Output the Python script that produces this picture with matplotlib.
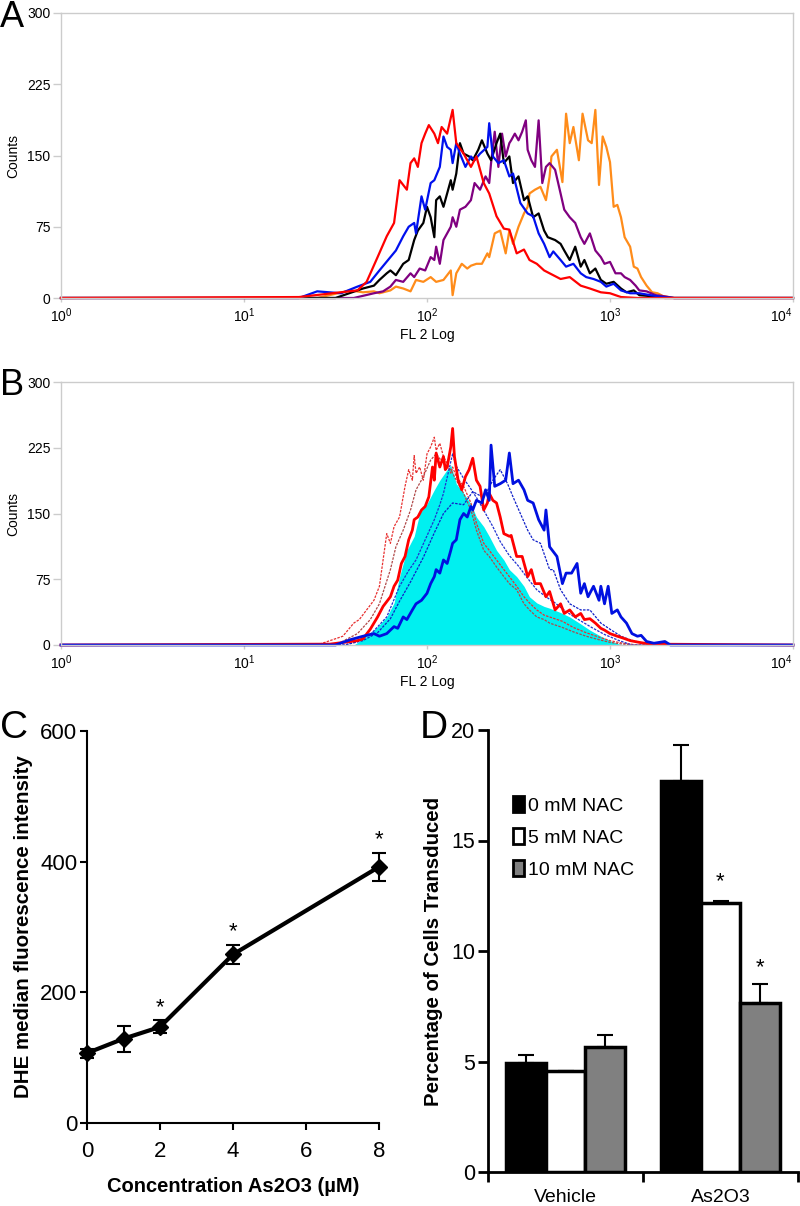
import numpy as np
import matplotlib.pyplot as plt
from matplotlib.patches import Patch

plt.rcParams['font.family'] = ['Liberation Sans', 'DejaVu Sans']
plt.rcParams['mathtext.default'] = 'regular'

# ---------------- data ----------------
# histograms: x = log10(FL2), y = counts
a_red_x = [0, 1.30, 1.62, 1.67, 1.73, 1.78, 1.82, 1.85, 1.89, 1.91, 1.93, 1.95, 1.97, 1.99, 2.01, 2.04, 2.06, 2.08, 2.11, 2.14,
           2.16, 2.20, 2.24, 2.27, 2.31, 2.34, 2.38, 2.42, 2.45, 2.49, 2.53, 2.56, 2.60, 2.64, 2.67, 2.73, 2.78, 2.84, 2.89, 2.95,
           3.00, 3.06, 3.15, 4.0]
a_red_y = [0, 1, 8, 17, 43, 65, 79, 124, 114, 142, 147, 138, 163, 173, 182, 173, 163, 180, 173, 198,
           163, 152, 138, 149, 121, 110, 86, 73, 72, 47, 51, 40, 36, 29, 26, 20, 22, 13, 10, 6,
           5, 1, 0, 0]

a_blue_x = [0, 1.30, 1.40, 1.53, 1.62, 1.69, 1.74, 1.80, 1.83, 1.87, 1.90, 1.93, 1.94, 1.97, 1.99, 2.02, 2.04, 2.07, 2.09, 2.11,
            2.13, 2.14, 2.16, 2.18, 2.21, 2.24, 2.26, 2.29, 2.33, 2.34, 2.36, 2.39, 2.42, 2.45, 2.47, 2.51, 2.55, 2.58, 2.61, 2.64,
            2.67, 2.69, 2.73, 2.76, 2.80, 2.84, 2.87, 2.91, 2.95, 2.98, 3.02, 3.06, 3.11, 3.16, 3.22, 3.29, 3.35, 4.0]
a_blue_y = [0, 0, 7, 5, 12, 17, 29, 43, 50, 65, 75, 79, 68, 107, 93, 121, 124, 138, 170, 159,
            156, 142, 163, 152, 138, 149, 145, 152, 159, 184, 149, 142, 145, 128, 131, 100, 89, 86, 68, 57,
            43, 49, 40, 33, 36, 26, 22, 20, 17, 12, 15, 8, 5, 5, 3, 1, 0, 0]

a_black_x = [0, 1.50, 1.65, 1.71, 1.74, 1.78, 1.80, 1.83, 1.87, 1.90, 1.93, 1.95, 1.98, 2.00, 2.02, 2.04, 2.05, 2.07, 2.09, 2.11,
             2.13, 2.14, 2.16, 2.18, 2.20, 2.23, 2.25, 2.28, 2.30, 2.33, 2.35, 2.38, 2.40, 2.42, 2.45, 2.47, 2.50, 2.53, 2.55, 2.58,
             2.61, 2.64, 2.66, 2.70, 2.73, 2.75, 2.78, 2.81, 2.84, 2.86, 2.89, 2.92, 2.95, 2.98, 3.02, 3.06, 3.09, 3.13, 3.16, 3.22,
             3.30, 4.0]
a_black_y = [0, 0, 10, 13, 19, 26, 29, 24, 36, 40, 61, 71, 79, 96, 85, 64, 103, 107, 96, 110,
             124, 114, 131, 163, 152, 149, 145, 156, 166, 152, 145, 163, 173, 142, 149, 121, 128, 103, 107, 85,
             89, 71, 64, 61, 57, 50, 40, 54, 33, 40, 26, 31, 19, 15, 17, 10, 6, 8, 3, 2,
             0, 0]

a_purple_x = [0, 1.60, 1.71, 1.76, 1.80, 1.83, 1.87, 1.91, 1.93, 1.96, 1.99, 2.02, 2.04, 2.05, 2.07, 2.09, 2.11, 2.13, 2.14, 2.16,
              2.18, 2.21, 2.24, 2.26, 2.29, 2.32, 2.34, 2.35, 2.37, 2.39, 2.41, 2.43, 2.45, 2.46, 2.48, 2.50, 2.52, 2.54, 2.55, 2.57,
              2.59, 2.61, 2.63, 2.65, 2.67, 2.70, 2.73, 2.75, 2.78, 2.81, 2.84, 2.86, 2.89, 2.92, 2.95, 2.97, 3.00, 3.03, 3.06, 3.08,
              3.11, 3.14, 3.16, 3.20, 3.25, 3.29, 3.35, 4.0]
a_purple_y = [0, 0, 5, 7, 12, 19, 17, 26, 22, 31, 29, 43, 40, 54, 36, 61, 68, 75, 85, 75,
              93, 96, 103, 121, 114, 128, 121, 142, 175, 138, 173, 149, 163, 166, 173, 166, 175, 187, 156, 145,
              138, 187, 121, 138, 142, 135, 110, 93, 85, 79, 64, 57, 68, 50, 43, 36, 38, 26, 26, 22,
              19, 13, 8, 7, 3, 2, 0, 0]

a_orange_x = [0, 1.40, 1.58, 1.65, 1.71, 1.74, 1.80, 1.83, 1.87, 1.91, 1.94, 1.98, 2.02, 2.05, 2.09, 2.13, 2.14, 2.16, 2.19, 2.22,
              2.24, 2.27, 2.30, 2.33, 2.34, 2.37, 2.40, 2.43, 2.45, 2.47, 2.50, 2.53, 2.55, 2.56, 2.59, 2.62, 2.65, 2.67, 2.68, 2.71,
              2.74, 2.76, 2.78, 2.80, 2.83, 2.85, 2.88, 2.90, 2.92, 2.94, 2.96, 2.98, 3.00, 3.02, 3.04, 3.06, 3.08, 3.11, 3.13, 3.15,
              3.17, 3.20, 3.23, 3.26, 3.29, 3.35, 4.0]
a_orange_y = [0, 0, 8, 6, 7, 5, 8, 12, 10, 7, 19, 17, 22, 17, 19, 29, 3, 26, 36, 31,
              34, 36, 36, 47, 43, 68, 71, 47, 71, 57, 75, 89, 96, 110, 114, 117, 103, 128, 149, 156,
              122, 194, 163, 180, 145, 194, 166, 163, 198, 119, 170, 159, 143, 96, 98, 85, 64, 54, 33, 31,
              22, 13, 6, 5, 2, 0, 0]

b_cyan_x = [0, 1.60, 1.67, 1.73, 1.78, 1.82, 1.85, 1.89, 1.93, 1.96, 2.00, 2.04, 2.07, 2.11, 2.13, 2.16, 2.20, 2.24, 2.27, 2.31,
            2.34, 2.38, 2.42, 2.45, 2.49, 2.53, 2.56, 2.60, 2.64, 2.67, 2.73, 2.78, 2.84, 2.89, 2.95, 3.00, 3.05, 3.10, 4.0]
b_cyan_y = [0, 0, 10, 21, 32, 48, 78, 108, 124, 150, 161, 177, 188, 200, 205, 184, 173, 161, 146, 135,
            124, 108, 97, 86, 78, 67, 55, 48, 44, 42, 37, 32, 24, 17, 10, 5, 1, 0, 0]

b_blue_x = [0, 1.50, 1.58, 1.65, 1.71, 1.74, 1.78, 1.82, 1.84, 1.87, 1.89, 1.92, 1.94, 1.97, 2.00, 2.02, 2.04, 2.05, 2.07, 2.09,
            2.11, 2.13, 2.14, 2.16, 2.18, 2.20, 2.22, 2.24, 2.25, 2.27, 2.30, 2.32, 2.34, 2.35, 2.37, 2.40, 2.43, 2.45, 2.47, 2.50,
            2.53, 2.55, 2.58, 2.61, 2.64, 2.65, 2.67, 2.71, 2.74, 2.76, 2.79, 2.82, 2.84, 2.86, 2.88, 2.91, 2.94, 2.95, 2.97, 2.99,
            3.01, 3.04, 3.06, 3.09, 3.12, 3.15, 3.17, 3.20, 3.24, 3.30, 3.33, 4.0]
b_blue_y = [0, 0, 6, 10, 13, 10, 13, 21, 19, 32, 29, 40, 47, 51, 59, 70, 78, 86, 82, 97,
            93, 108, 116, 120, 143, 150, 146, 158, 154, 165, 162, 177, 165, 228, 181, 184, 188, 219, 184, 188,
            177, 165, 162, 143, 131, 154, 112, 101, 70, 82, 82, 93, 59, 70, 55, 67, 51, 67, 47, 67,
            36, 40, 32, 25, 13, 10, 11, 4, 2, 4, 0, 0]

b_red_x = [0, 1.47, 1.62, 1.65, 1.69, 1.73, 1.76, 1.80, 1.82, 1.84, 1.86, 1.88, 1.90, 1.92, 1.93, 1.95, 1.97, 1.99, 2.01, 2.03,
           2.04, 2.05, 2.07, 2.09, 2.10, 2.11, 2.13, 2.14, 2.15, 2.17, 2.19, 2.21, 2.23, 2.25, 2.27, 2.29, 2.31, 2.33, 2.34, 2.36,
           2.38, 2.40, 2.42, 2.45, 2.46, 2.49, 2.52, 2.54, 2.55, 2.57, 2.59, 2.62, 2.65, 2.67, 2.70, 2.73, 2.75, 2.78, 2.81, 2.84,
           2.86, 2.89, 2.92, 2.95, 2.97, 3.00, 3.04, 3.07, 3.11, 3.16, 3.22, 4.0]
b_red_y = [0, 1, 5, 7, 18, 32, 44, 55, 67, 74, 93, 101, 120, 131, 143, 146, 154, 158, 169, 203,
           188, 219, 203, 215, 200, 203, 226, 247, 215, 188, 177, 192, 200, 213, 188, 181, 154, 162, 173, 165,
           162, 146, 127, 124, 125, 101, 101, 86, 78, 86, 70, 70, 55, 61, 40, 47, 36, 40, 32, 36,
           29, 30, 25, 19, 17, 13, 10, 8, 5, 3, 1, 0]

b_reddash1_x = [0, 1.40, 1.47, 1.54, 1.60, 1.63, 1.67, 1.71, 1.74, 1.78, 1.80, 1.82, 1.85, 1.88, 1.90, 1.92, 1.93, 1.94, 1.96, 1.98,
                2.00, 2.02, 2.04, 2.05, 2.07, 2.09, 2.11, 2.13, 2.14, 2.16, 2.20, 2.24, 2.27, 2.31, 2.34, 2.38, 2.42, 2.45, 2.49, 2.53,
                2.56, 2.60, 2.64, 2.67, 2.74, 2.80, 2.87, 2.94, 3.00, 3.07, 3.15, 4.0]
b_reddash1_y = [0, 0, 5, 10, 25, 29, 40, 51, 67, 127, 116, 135, 146, 181, 200, 188, 216, 196, 203, 188,
                218, 226, 237, 222, 230, 215, 207, 196, 203, 192, 181, 162, 139, 116, 108, 97, 86, 78, 67, 55,
                48, 40, 34, 32, 27, 20, 14, 9, 5, 2, 0, 0]

b_reddash2_x = [0, 1.50, 1.62, 1.69, 1.74, 1.80, 1.83, 1.87, 1.91, 1.94, 1.98, 2.02, 2.05, 2.09, 2.13, 2.16, 2.20, 2.24, 2.27, 2.31,
                2.34, 2.38, 2.42, 2.45, 2.49, 2.53, 2.56, 2.60, 2.64, 2.67, 2.74, 2.80, 2.87, 2.94, 3.00, 3.07, 3.15, 4.0]
b_reddash2_y = [0, 0, 13, 29, 47, 86, 112, 131, 154, 177, 192, 211, 218, 207, 200, 188, 173, 154, 131, 108,
                101, 89, 78, 70, 63, 47, 40, 32, 29, 25, 20, 15, 10, 6, 3, 1, 0, 0]

b_bluedash1_x = [0, 1.55, 1.62, 1.70, 1.78, 1.85, 1.90, 1.94, 1.99, 2.04, 2.07, 2.09, 2.12, 2.14, 2.16, 2.20, 2.24, 2.28, 2.32, 2.36,
                 2.40, 2.45, 2.50, 2.55, 2.60, 2.65, 2.70, 2.76, 2.82, 2.90, 2.97, 3.05, 3.12, 4.0]
b_bluedash1_y = [0, 0, 4, 14, 32, 67, 85, 97, 120, 143, 160, 173, 200, 218, 204, 190, 178, 165, 150, 135,
                 118, 102, 90, 76, 63, 55, 48, 38, 30, 20, 12, 5, 0, 0]

b_bluedash2_x = [0, 1.55, 1.65, 1.73, 1.80, 1.85, 1.91, 1.98, 2.04, 2.09, 2.14, 2.20, 2.25, 2.31, 2.36, 2.40, 2.44, 2.47, 2.51, 2.55,
                 2.58, 2.62, 2.67, 2.69, 2.73, 2.78, 2.84, 2.89, 2.95, 3.00, 3.06, 3.11, 3.16, 3.22, 4.0]
b_bluedash2_y = [0, 0, 5, 14, 30, 50, 72, 100, 128, 150, 162, 160, 175, 168, 188, 200, 184, 169, 150, 131,
                 120, 116, 86, 86, 63, 47, 40, 40, 25, 18, 10, 6, 3, 0, 0]

count_ticks = [0, 75, 150, 225, 300]
decades = [0, 1, 2, 3, 4]

# panel C
conc = [0, 1, 2, 4, 8]
dhe = [107, 129, 147, 258, 392]
dhe_err = [7, 20, 10, 15, 22]
dhe_sig = [2, 4, 8]

# panel D
groups = ['Vehicle', 'As2O3']
nac_labels = ['0 mM NAC', '5 mM NAC', '10 mM NAC']
nac0 = [4.95, 17.7]
nac0_err = [0.35, 1.6]
nac5 = [4.55, 12.15]
nac5_err = [0.0, 0.12]
nac10 = [5.67, 7.66]
nac10_err = [0.55, 0.85]

# ---------------- figure ----------------
fig = plt.figure(figsize=(8, 12.06), dpi=100)
W, H = 800, 1206


def rect(l, t, r, b):
    return [l / W, 1 - b / H, (r - l) / W, (b - t) / H]


def hist_axes(r):
    ax = fig.add_axes(r)
    ax.set_xscale('log')
    ax.set_xlim(1, 1e4)
    ax.set_ylim(0, 300)
    for s in ax.spines.values():
        s.set_color('#cccccc')
        s.set_linewidth(1)
    ax.set_yticks(count_ticks)
    ax.set_xticks([10.0 ** d for d in decades], [f'$10^{{{d}}}$' for d in decades])
    ax.get_xticklabels()[-1].set_horizontalalignment('right')
    ax.minorticks_off()
    ax.tick_params(axis='y', colors='#cccccc', labelcolor='black', labelsize=10, length=6, width=1, pad=1.5)
    ax.tick_params(axis='x', colors='#cccccc', labelcolor='black', labelsize=10, length=3, width=1, pad=3)
    ax.set_ylabel('Counts', fontsize=10, labelpad=5)
    ax.set_xlabel('FL 2 Log', fontsize=10, labelpad=2)
    return ax


def line(ax, xs, ys, **kw):
    ax.plot(10.0 ** np.array(xs), ys, clip_on=False, **kw)


# A
axA = hist_axes(rect(61, 13, 793, 298))
line(axA, a_orange_x, a_orange_y, color='#ff8c1a', lw=1.6)
line(axA, a_purple_x, a_purple_y, color='#800080', lw=1.6)
line(axA, a_black_x, a_black_y, color='black', lw=1.6)
line(axA, a_blue_x, a_blue_y, color='#0010ee', lw=1.6)
line(axA, a_red_x, a_red_y, color='#ff0000', lw=1.6)

# B
axB = hist_axes(rect(61, 382, 793, 645))
axB.fill_between(10.0 ** np.array(b_cyan_x), b_cyan_y, 0, color='#00f0f0', lw=0)
line(axB, b_reddash1_x, b_reddash1_y, color='#e83030', lw=0.9, ls=(0, (2, 1)))
line(axB, b_reddash2_x, b_reddash2_y, color='#b04848', lw=0.9, ls=(0, (2, 1)))
line(axB, b_bluedash1_x, b_bluedash1_y, color='#2030d0', lw=0.9, ls=(0, (2, 1)))
line(axB, b_bluedash2_x, b_bluedash2_y, color='#1020c8', lw=0.9, ls=(0, (2, 1)))
line(axB, b_red_x, b_red_y, color='#ff0000', lw=2)
line(axB, b_blue_x, b_blue_y, color='#0010e0', lw=2)

# C
axC = fig.add_axes(rect(87, 731, 379, 1123))
axC.errorbar(conc, dhe, yerr=dhe_err, fmt='-D', color='black', lw=3, ms=8,
             ecolor='black', elinewidth=1.5, capsize=5, capthick=1.5, clip_on=False)
for c in dhe_sig:
    i = conc.index(c)
    axC.text(c, dhe[i] + dhe_err[i] + 20, '*', ha='center', va='center', fontsize=16)
axC.set_xlim(0, 8)
axC.set_ylim(0, 600)
axC.set_xticks([0, 2, 4, 6, 8])
axC.set_yticks([0, 200, 400, 600])
axC.spines[['top', 'right']].set_visible(False)
axC.spines[['left', 'bottom']].set_linewidth(1.5)
axC.tick_params(labelsize=16, length=5, width=1.5, pad=2)
axC.tick_params(axis='x', pad=8)
axC.set_xlabel('Concentration As2O3 (\u00b5M)', fontsize=14.5, fontweight='bold', labelpad=11)
axC.set_ylabel('DHE median fluorescence intensity', fontsize=14.8, fontweight='bold', labelpad=5)

# D
axD = fig.add_axes(rect(488, 730, 798, 1172))
xg = np.array([0.5, 1.5])
bw = 0.255
series = [(nac0, nac0_err, 'black'), (nac5, nac5_err, 'white'), (nac10, nac10_err, '#808080')]
for k, (vals, errs, col) in enumerate(series):
    xs = xg + (k - 1) * bw
    axD.errorbar(xs, vals, yerr=[np.zeros(len(errs)), errs], fmt='none', ecolor='black',
                 elinewidth=1.5, capsize=6, capthick=1.5, zorder=1)
    axD.bar(xs, vals, width=bw, color=col, edgecolor='black', lw=2.5, zorder=2, label=nac_labels[k])
axD.text(xg[1], nac5[1] + nac5_err[1] + 0.85, '*', ha='center', va='center', fontsize=16)
axD.text(xg[1] + bw, nac10[1] + nac10_err[1] + 0.75, '*', ha='center', va='center', fontsize=16)
axD.set_xlim(0, 2)
axD.set_ylim(0, 20)
axD.set_yticks([0, 5, 10, 15, 20])
axD.set_xticks([0, 1, 2], ['', '', ''])
axD.set_xticks(xg, groups, minor=True)
axD.spines[['top', 'right']].set_visible(False)
axD.spines[['left', 'bottom']].set_linewidth(2)
axD.tick_params(labelsize=15.5, length=7, width=2, pad=2)
axD.tick_params(axis='x', which='minor', length=0, labelsize=14, pad=12)
axD.set_ylabel('Percentage of Cells Transduced', fontsize=14.7, fontweight='bold', labelpad=6)
handles = [Patch(facecolor=c, edgecolor='black', lw=2) for _, _, c in series]
axD.legend(handles, nac_labels, loc='upper left', bbox_to_anchor=(0.08, 0.85), frameon=False,
           fontsize=14, handlelength=0.6, handleheight=0.9, handletextpad=0.2, labelspacing=0.68,
           borderpad=0, borderaxespad=0)

# panel letters
fig.text(0 / W, 1 - 0 / H, 'A', fontsize=26, ha='left', va='top')
fig.text(0 / W, 1 - 368 / H, 'B', fontsize=26, ha='left', va='top')
fig.text(0 / W, 1 - 710 / H, 'C', fontsize=28, ha='left', va='top')
fig.text(420 / W, 1 - 710 / H, 'D', fontsize=28, ha='left', va='top')

plt.savefig('out.png', dpi=100)
